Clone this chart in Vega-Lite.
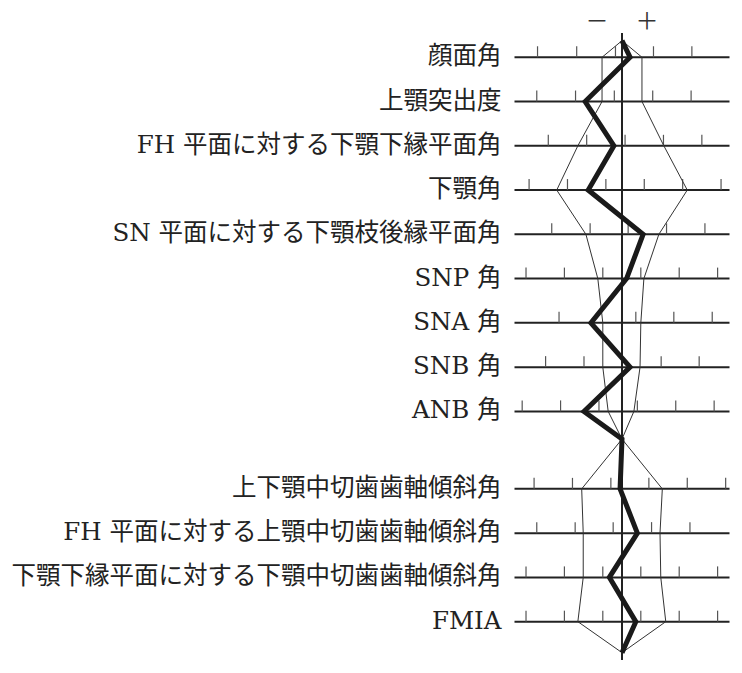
{
  "$schema": "https://vega.github.io/schema/vega-lite/v6.json",
  "autosize": {"type": "none"},
  "padding": {"left": 514.5, "top": 13, "right": 0, "bottom": 0},
  "width": 215,
  "height": 664,
  "background": "white",
  "config": {"view": {"stroke": null}},
  "datasets": {
    "rows": [
      {"label": "顔面角", "y": 1},
      {"label": "上顎突出度", "y": 2},
      {"label": "FH 平面に対する下顎下縁平面角", "y": 3},
      {"label": "下顎角", "y": 4},
      {"label": "SN 平面に対する下顎枝後縁平面角", "y": 5},
      {"label": "SNP 角", "y": 6},
      {"label": "SNA 角", "y": 7},
      {"label": "SNB 角", "y": 8},
      {"label": "ANB 角", "y": 9},
      {"label": "上下顎中切歯歯軸傾斜角", "y": 10.75},
      {"label": "FH 平面に対する上顎中切歯歯軸傾斜角", "y": 11.75},
      {"label": "下顎下縁平面に対する下顎中切歯歯軸傾斜角", "y": 12.75},
      {"label": "FMIA", "y": 13.75}
    ],
    "ticks": [
      {"y": 1, "x": -2.2}, {"y": 1, "x": -1.18}, {"y": 1, "x": -0.17}, {"y": 1, "x": 0.82}, {"y": 1, "x": 1.82},
      {"y": 2, "x": -2.22}, {"y": 2, "x": -1.21}, {"y": 2, "x": -0.2}, {"y": 2, "x": 0.8}, {"y": 2, "x": 1.8},
      {"y": 3, "x": -1.92}, {"y": 3, "x": -0.92}, {"y": 3, "x": 0.08}, {"y": 3, "x": 1.08}, {"y": 3, "x": 2.08},
      {"y": 4, "x": -2.42}, {"y": 4, "x": -1.42}, {"y": 4, "x": -0.42}, {"y": 4, "x": 0.58}, {"y": 4, "x": 1.58}, {"y": 4, "x": 2.58},
      {"y": 5, "x": -1.83}, {"y": 5, "x": -0.83}, {"y": 5, "x": 0.16}, {"y": 5, "x": 1.16}, {"y": 5, "x": 2.16},
      {"y": 6, "x": -2.5}, {"y": 6, "x": -1.5}, {"y": 6, "x": -0.5}, {"y": 6, "x": 0.49}, {"y": 6, "x": 1.49}, {"y": 6, "x": 2.49},
      {"y": 7, "x": -1.64}, {"y": 7, "x": 0.36}, {"y": 7, "x": 1.35}, {"y": 7, "x": 2.35},
      {"y": 8, "x": -1.99}, {"y": 8, "x": -0.99}, {"y": 8, "x": 1.02}, {"y": 8, "x": 2.01},
      {"y": 9, "x": -2.6}, {"y": 9, "x": -1.6}, {"y": 9, "x": -0.6}, {"y": 9, "x": 0.4}, {"y": 9, "x": 1.4}, {"y": 9, "x": 2.4},
      {"y": 10.75, "x": -2.29}, {"y": 10.75, "x": -1.29}, {"y": 10.75, "x": -0.29}, {"y": 10.75, "x": 0.7}, {"y": 10.75, "x": 1.7}, {"y": 10.75, "x": 2.7},
      {"y": 11.75, "x": -2.22}, {"y": 11.75, "x": -1.22}, {"y": 11.75, "x": -0.23}, {"y": 11.75, "x": 0.77}, {"y": 11.75, "x": 1.77},
      {"y": 12.75, "x": -2.5}, {"y": 12.75, "x": -1.5}, {"y": 12.75, "x": -0.5}, {"y": 12.75, "x": 0.49}, {"y": 12.75, "x": 1.49}, {"y": 12.75, "x": 2.49},
      {"y": 13.75, "x": -2.5}, {"y": 13.75, "x": -1.5}, {"y": 13.75, "x": -0.5}, {"y": 13.75, "x": 0.49}, {"y": 13.75, "x": 1.49}, {"y": 13.75, "x": 2.49}
    ],
    "profile": [
      {"s": "sd_minus", "y": 0.625, "x": 0}, {"s": "sd_minus", "y": 1, "x": -0.52}, {"s": "sd_minus", "y": 2, "x": -0.52},
      {"s": "sd_minus", "y": 3, "x": -1.15}, {"s": "sd_minus", "y": 4, "x": -1.7}, {"s": "sd_minus", "y": 5, "x": -0.94},
      {"s": "sd_minus", "y": 6, "x": -0.63}, {"s": "sd_minus", "y": 7, "x": -0.5}, {"s": "sd_minus", "y": 8, "x": -0.5},
      {"s": "sd_minus", "y": 9, "x": -0.36}, {"s": "sd_minus", "y": 9.625, "x": 0}, {"s": "sd_minus", "y": 10.75, "x": -1.05},
      {"s": "sd_minus", "y": 11.75, "x": -1.01}, {"s": "sd_minus", "y": 12.75, "x": -1.01}, {"s": "sd_minus", "y": 13.75, "x": -1.15},
      {"s": "sd_minus", "y": 14.45, "x": 0},
      {"s": "sd_plus", "y": 0.625, "x": 0}, {"s": "sd_plus", "y": 1, "x": 0.52}, {"s": "sd_plus", "y": 2, "x": 0.52},
      {"s": "sd_plus", "y": 3, "x": 1.09}, {"s": "sd_plus", "y": 4, "x": 1.7}, {"s": "sd_plus", "y": 5, "x": 0.96},
      {"s": "sd_plus", "y": 6, "x": 0.57}, {"s": "sd_plus", "y": 7, "x": 0.49}, {"s": "sd_plus", "y": 8, "x": 0.47},
      {"s": "sd_plus", "y": 9, "x": 0.31}, {"s": "sd_plus", "y": 9.625, "x": 0}, {"s": "sd_plus", "y": 10.75, "x": 1.05},
      {"s": "sd_plus", "y": 11.75, "x": 0.99}, {"s": "sd_plus", "y": 12.75, "x": 1.01}, {"s": "sd_plus", "y": 13.75, "x": 1.14},
      {"s": "sd_plus", "y": 14.45, "x": 0},
      {"s": "case", "y": 0.625, "x": 0}, {"s": "case", "y": 1, "x": 0.21}, {"s": "case", "y": 2, "x": -0.96},
      {"s": "case", "y": 3, "x": -0.21}, {"s": "case", "y": 4, "x": -0.88}, {"s": "case", "y": 5, "x": 0.55},
      {"s": "case", "y": 6, "x": 0.12}, {"s": "case", "y": 7, "x": -0.81}, {"s": "case", "y": 8, "x": 0.21},
      {"s": "case", "y": 9, "x": -0.99}, {"s": "case", "y": 9.625, "x": 0}, {"s": "case", "y": 10.75, "x": -0.05},
      {"s": "case", "y": 11.75, "x": 0.4}, {"s": "case", "y": 12.75, "x": -0.33}, {"s": "case", "y": 13.75, "x": 0.36},
      {"s": "case", "y": 14.45, "x": 0}
    ],
    "signs": [
      {"text": "－", "x": -0.65},
      {"text": "＋", "x": 0.65}
    ]
  },
  "encoding": {
    "x": {"type": "quantitative", "scale": {"domain": [-2.8, 2.8], "zero": false, "nice": false}, "axis": null},
    "y": {"type": "quantitative", "scale": {"domain": [0, 15], "reverse": true, "zero": false, "nice": false}, "axis": null}
  },
  "layer": [
    {
      "data": {"name": "rows"},
      "mark": {"type": "rule", "color": "#222", "strokeWidth": 2},
      "encoding": {"y": {"field": "y", "type": "quantitative"}}
    },
    {
      "data": {"name": "ticks"},
      "mark": {"type": "tick", "orient": "vertical", "size": 11, "thickness": 1.2, "yOffset": -5.5, "color": "#555", "opacity": 1},
      "encoding": {
        "x": {"field": "x", "type": "quantitative"},
        "y": {"field": "y", "type": "quantitative"}
      }
    },
    {
      "data": {"name": "rows"},
      "mark": {"type": "rule", "color": "#222", "strokeWidth": 2},
      "encoding": {
        "x": {"datum": 0},
        "y": {"datum": 0.45},
        "y2": {"datum": 14.6}
      }
    },
    {
      "data": {"name": "profile"},
      "transform": [{"filter": "datum.s !== 'case'"}],
      "mark": {"type": "line", "color": "#333", "strokeWidth": 1, "strokeJoin": "miter"},
      "encoding": {
        "x": {"field": "x", "type": "quantitative"},
        "y": {"field": "y", "type": "quantitative"},
        "detail": {"field": "s"},
        "order": {"field": "y", "type": "quantitative"}
      }
    },
    {
      "data": {"name": "profile"},
      "transform": [{"filter": "datum.s === 'case'"}],
      "mark": {"type": "line", "color": "#1a1a1a", "strokeWidth": 5, "strokeJoin": "miter", "strokeMiterLimit": 10},
      "encoding": {
        "x": {"field": "x", "type": "quantitative"},
        "y": {"field": "y", "type": "quantitative"},
        "order": {"field": "y", "type": "quantitative"}
      }
    },
    {
      "data": {"name": "rows"},
      "mark": {"type": "text", "align": "right", "baseline": "middle", "dx": -13, "fontSize": 24.5, "font": "DejaVu Serif, Noto Sans CJK JP", "color": "#222"},
      "encoding": {
        "x": {"datum": -2.8},
        "y": {"field": "y", "type": "quantitative"},
        "text": {"field": "label"}
      }
    },
    {
      "data": {"name": "signs"},
      "mark": {"type": "text", "align": "center", "baseline": "middle", "fontSize": 23, "font": "Noto Sans CJK JP", "color": "#333"},
      "encoding": {
        "x": {"field": "x", "type": "quantitative"},
        "y": {"datum": 0.2},
        "text": {"field": "text"}
      }
    }
  ]
}
